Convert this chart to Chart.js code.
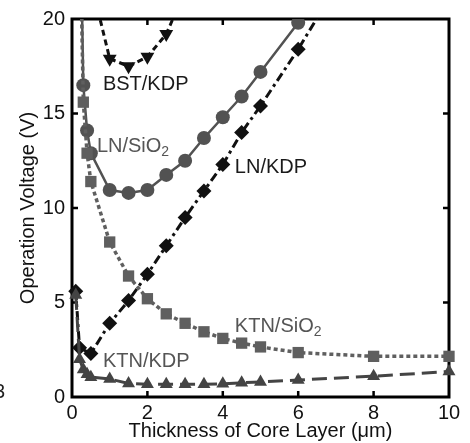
<!DOCTYPE html>
<html>
<head>
<meta charset="utf-8">
<script src="https://cdn.jsdelivr.net/npm/chart.js@4"></script>
<style>
  html, body { margin: 0; padding: 0; background: #fff; }
  #wrap { width: 470px; height: 443px; }
</style>
</head>
<body>
<div id="wrap"><canvas id="chart" width="470" height="443"></canvas></div>
<script>
// thickness (um) and operation voltage (V) per waveguide type
const lnSiO2X = [0.2, 0.3, 0.4, 0.5, 1, 1.5, 2, 2.5, 3, 3.5, 4, 4.5, 5, 6];
const lnSiO2Y = [28, 16.5, 14.1, 12.9, 10.95, 10.8, 10.95, 11.75, 12.5, 13.7, 14.8, 15.9, 17.2, 19.8];

const ktnSiO2X = [0.2, 0.3, 0.4, 0.5, 1, 1.5, 2, 2.5, 3, 3.5, 4, 4.5, 5, 6, 8, 10];
const ktnSiO2Y = [26, 15.6, 12.9, 11.4, 8.2, 6.4, 5.2, 4.4, 3.9, 3.45, 3.1, 2.85, 2.65, 2.35, 2.15, 2.15];

const lnKdpX = [0.1, 0.2, 0.5, 1, 1.5, 2, 2.5, 3, 3.5, 4, 4.5, 5, 6, 8];
const lnKdpY = [5.6, 2.6, 2.3, 3.9, 5.1, 6.5, 8.0, 9.5, 10.9, 12.3, 14.0, 15.4, 18.4, 25];

const ktnKdpX = [0.1, 0.2, 0.3, 0.4, 0.5, 1, 1.5, 2, 2.5, 3, 3.5, 4, 4.5, 5, 6, 8, 10];
const ktnKdpY = [5.4, 2.0, 1.45, 1.2, 1.05, 0.95, 0.72, 0.68, 0.68, 0.68, 0.68, 0.7, 0.75, 0.8, 0.9, 1.1, 1.35];

const bstKdpX = [0.5, 1, 1.5, 2, 2.5, 3];
const bstKdpY = [22, 17.9, 17.5, 18.0, 19.2, 21.5];

const xTicks = [0, 2, 4, 6, 8, 10];
const yTicks = [0, 5, 10, 15, 20];

const FONT = '"Liberation Sans", Arial, sans-serif';

function pts(xs, ys) {
    return xs.map((x, i) => ({ x: x, y: ys[i] }));
}

const clipBox = { left: 10, right: 10, top: 0, bottom: 10 };

// frame with inward ticks, drawn under the data
const framePlugin = {
    id: 'frame',
    beforeDatasetsDraw(chart) {
        const { ctx, chartArea: a, scales } = chart;
        ctx.save();
        ctx.strokeStyle = '#000';
        ctx.lineWidth = 3;
        ctx.strokeRect(a.left, a.top, a.right - a.left, a.bottom - a.top);
        ctx.lineWidth = 2.5;
        ctx.beginPath();
        xTicks.slice(1, -1).forEach(v => {
            const px = scales.x.getPixelForValue(v);
            ctx.moveTo(px, a.bottom); ctx.lineTo(px, a.bottom - 6);
            ctx.moveTo(px, a.top); ctx.lineTo(px, a.top + 6);
        });
        yTicks.slice(1, -1).forEach(v => {
            const py = scales.y.getPixelForValue(v);
            ctx.moveTo(a.left, py); ctx.lineTo(a.left + 6, py);
            ctx.moveTo(a.right, py); ctx.lineTo(a.right - 6, py);
        });
        ctx.stroke();
        ctx.restore();
    }
};

// series names next to the curves
const labelPlugin = {
    id: 'labels',
    afterDraw(chart) {
        const { ctx, scales } = chart;
        const X = v => scales.x.getPixelForValue(v);
        const Y = v => scales.y.getPixelForValue(v);
        ctx.save();
        ctx.font = '20px ' + FONT;
        ctx.textBaseline = 'alphabetic';
        ctx.textAlign = 'left';

        function sub(text, s, x, y, color) {
            ctx.fillStyle = color;
            ctx.font = '20px ' + FONT;
            ctx.fillText(text, x, y);
            const w = ctx.measureText(text).width;
            ctx.font = '14px ' + FONT;
            ctx.fillText(s, x + w, y + 4);
            ctx.font = '20px ' + FONT;
        }

        ctx.fillStyle = '#1a1a1a';
        ctx.fillText('BST/KDP', X(0.82), Y(16.25));
        ctx.fillText('LN/KDP', X(4.32), Y(11.85));
        sub('LN/SiO', '2', X(0.66), Y(12.96), '#555');
        sub('KTN/SiO', '2', X(4.32), Y(3.44), '#555');
        ctx.fillStyle = '#555';
        ctx.fillText('KTN/KDP', X(0.82), Y(1.59));

        // fragment of a neighbouring figure label at the left edge
        ctx.fillStyle = '#222';
        ctx.fillText('3', -6, 398);
        ctx.restore();
    }
};

new Chart(document.getElementById('chart'), {
    type: 'line',
    data: {
        datasets: [
            {
                label: 'KTN/SiO2',
                data: pts(ktnSiO2X, ktnSiO2Y),
                borderColor: '#5f5f5f',
                backgroundColor: '#5f5f5f',
                borderWidth: 3.5,
                borderDash: [4, 3],
                pointStyle: 'rect',
                pointRadius: 8,
                pointBorderWidth: 0,
                clip: clipBox
            },
            {
                label: 'LN/SiO2',
                data: pts(lnSiO2X, lnSiO2Y),
                borderColor: '#525252',
                backgroundColor: '#525252',
                borderWidth: 2.5,
                pointStyle: 'circle',
                pointRadius: 7,
                pointBorderWidth: 0,
                clip: clipBox
            },
            {
                label: 'KTN/KDP',
                data: pts(ktnKdpX, ktnKdpY),
                borderColor: '#444',
                backgroundColor: '#444',
                borderWidth: 3,
                borderDash: [15, 7],
                pointStyle: 'triangle',
                pointRadius: 7.5,
                pointBorderWidth: 0,
                clip: clipBox
            },
            {
                label: 'LN/KDP',
                data: pts(lnKdpX, lnKdpY),
                borderColor: '#111',
                backgroundColor: '#111',
                borderWidth: 3,
                borderDash: [9, 4, 3, 4],
                pointStyle: 'rectRot',
                pointRadius: 7.5,
                pointBorderWidth: 0,
                clip: clipBox
            },
            {
                label: 'BST/KDP',
                data: pts(bstKdpX, bstKdpY),
                borderColor: '#111',
                backgroundColor: '#111',
                borderWidth: 3,
                borderDash: [6, 4],
                pointStyle: 'triangle',
                rotation: 180,
                pointRadius: 8,
                pointBorderWidth: 0,
                clip: clipBox
            }
        ]
    },
    options: {
        responsive: false,
        animation: false,
        layout: { padding: { top: 19, right: 21, left: 0, bottom: 0 } },
        plugins: { legend: { display: false }, tooltip: { enabled: false } },
        elements: { line: { tension: 0, fill: false } },
        scales: {
            x: {
                type: 'linear',
                min: 0,
                max: 10,
                afterBuildTicks: s => { s.ticks = xTicks.map(v => ({ value: v })); },
                afterFit: s => { s.height = 46; },
                grid: { display: false, drawTicks: false },
                border: { display: false },
                ticks: { color: '#111', font: { family: FONT, size: 20 }, padding: 4, maxRotation: 0 },
                title: {
                    display: true,
                    text: 'Thickness of Core Layer (μm)',
                    color: '#111',
                    font: { family: FONT, size: 20 },
                    padding: { top: 0, bottom: 0 }
                }
            },
            y: {
                type: 'linear',
                min: 0,
                max: 20,
                afterBuildTicks: s => { s.ticks = yTicks.map(v => ({ value: v })); },
                afterFit: s => { s.width = 72; },
                grid: { display: false, drawTicks: false },
                border: { display: false },
                ticks: { color: '#111', font: { family: FONT, size: 20 }, padding: 7 },
                title: {
                    display: true,
                    text: 'Operation Voltage (V)',
                    color: '#111',
                    font: { family: FONT, size: 20 },
                    padding: { top: 16, bottom: 0 }
                }
            }
        }
    },
    plugins: [framePlugin, labelPlugin]
});
</script>
</body>
</html>
